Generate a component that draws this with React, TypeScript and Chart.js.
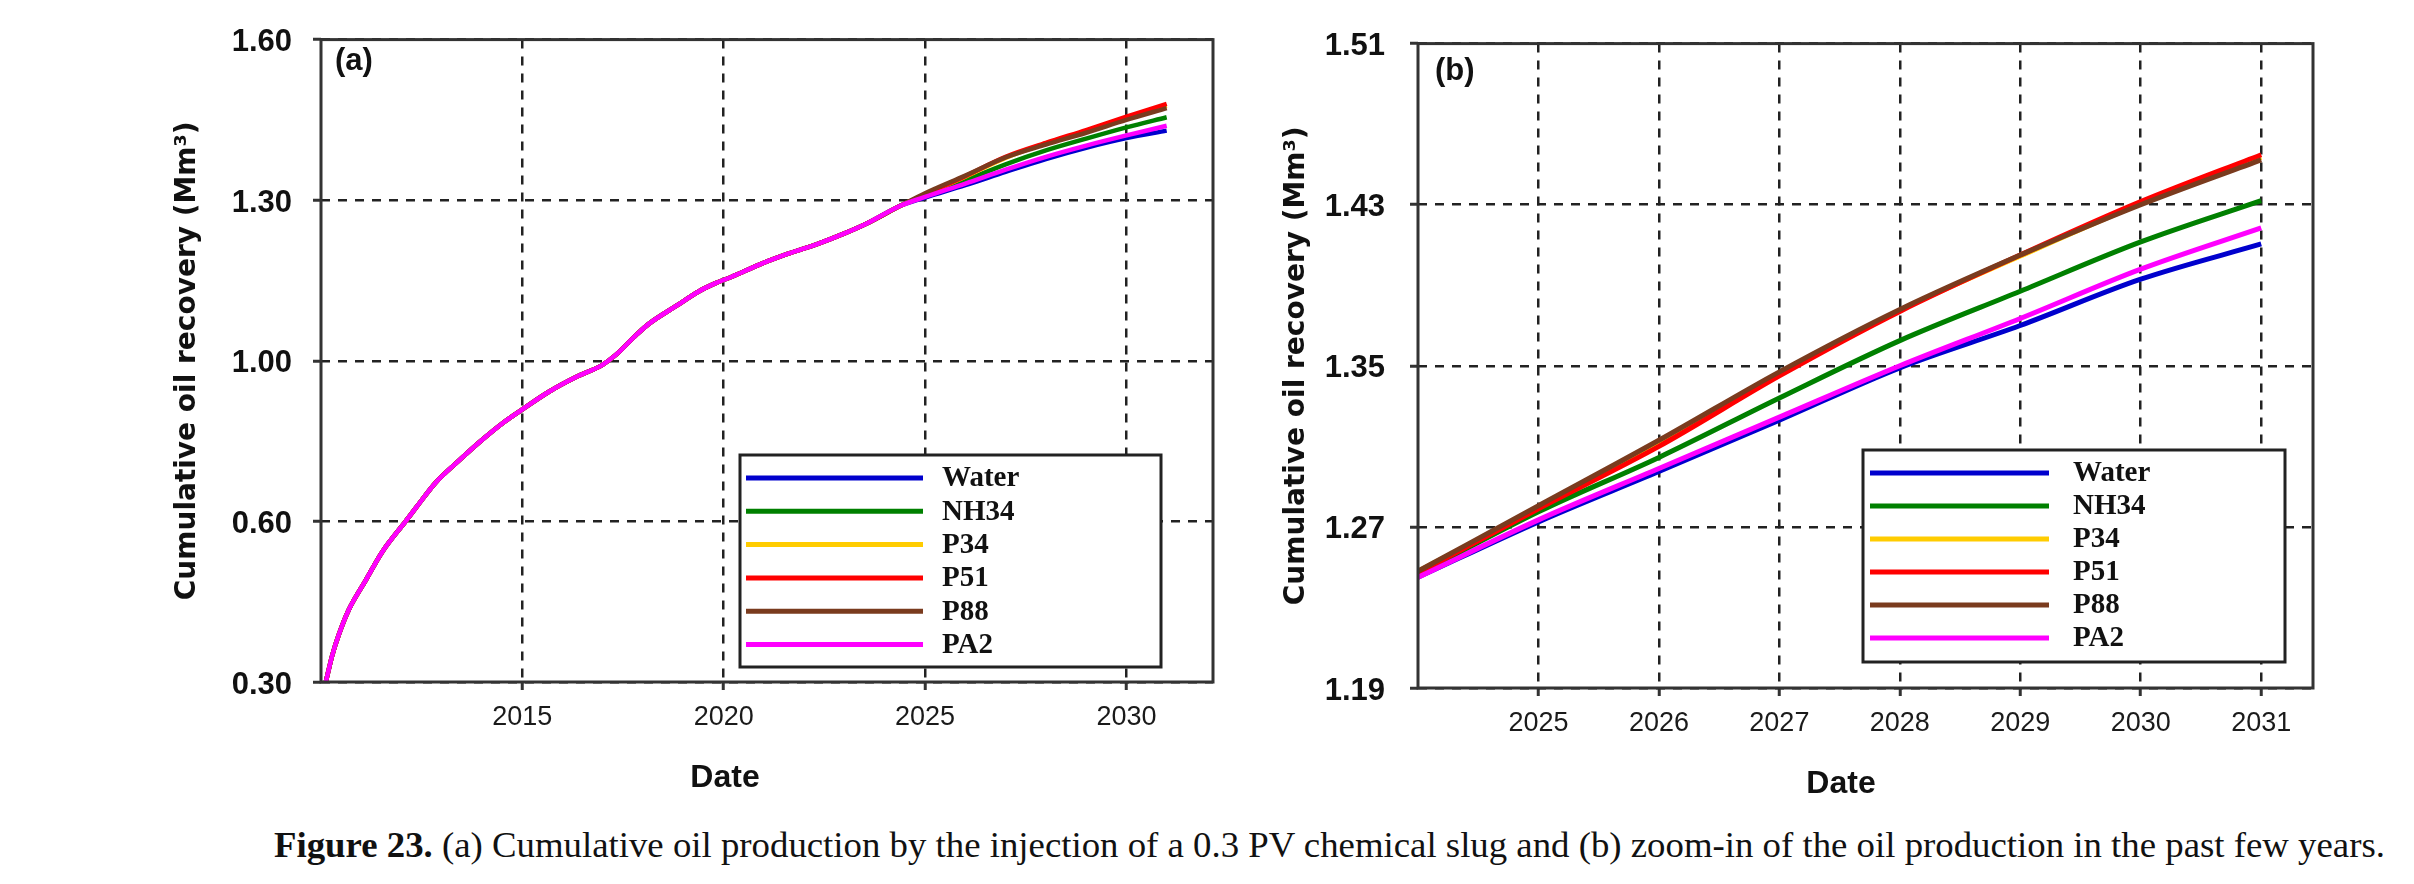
import React, { useEffect, useRef } from 'react';
import { Chart, LinearScale, registerables } from 'chart.js';

Chart.register(...registerables);

// ---------------- data ----------------
const SERIES_NAMES = ['Water', 'NH34', 'P34', 'P51', 'P88', 'PA2'];
const SERIES_COLORS = ['#0000CD', '#008000', '#FFCC00', '#FF0000', '#7A3B1E', '#FF00FF'];

// Panel (a): full history (all cases overlap) + diverging forecast
const Y_TICKS_A = [0.3, 0.6, 1.0, 1.3, 1.6];
const X_TICKS_A = [2015, 2020, 2025, 2030];
const HISTORY_YEARS = [2010.12, 2010.28, 2010.45, 2010.69, 2011.11, 2011.52, 2012.1, 2012.35, 2012.85, 2013.43, 2014.01, 2014.5, 2015.0, 2015.66, 2016.32, 2016.99, 2017.32, 2017.81, 2018.14, 2018.81, 2019.39, 2019.8, 2020.2, 2020.93, 2021.6, 2022.32, 2023.0, 2023.54, 2024.4];
const HISTORY_VALUES = [0.3, 0.35, 0.39, 0.435, 0.49, 0.543, 0.6, 0.633, 0.697, 0.752, 0.804, 0.844, 0.879, 0.923, 0.959, 0.99, 1.011, 1.047, 1.069, 1.102, 1.13, 1.145, 1.157, 1.181, 1.2, 1.218, 1.238, 1.256, 1.29];
const TAIL_YEARS_A = [2025, 2026, 2027, 2028, 2029, 2030, 2031];
const WATER_A = [1.305, 1.328, 1.353, 1.377, 1.398, 1.416, 1.43];
const NH34_A = [1.308, 1.337, 1.367, 1.393, 1.415, 1.436, 1.455];
const P34_A = [1.311, 1.344, 1.379, 1.406, 1.429, 1.452, 1.476];
const P51_A = [1.311, 1.345, 1.381, 1.407, 1.431, 1.456, 1.48];
const P88_A = [1.313, 1.346, 1.38, 1.404, 1.426, 1.45, 1.472];
const PA2_A = [1.306, 1.331, 1.357, 1.381, 1.402, 1.421, 1.439];

// Panel (b): zoom on the forecast period
const Y_TICKS_B = [1.19, 1.27, 1.35, 1.43, 1.51];
const X_TICKS_B = [2025, 2026, 2027, 2028, 2029, 2030, 2031];
const YEARS_B = [2024.0, 2025, 2026, 2027, 2028, 2029, 2030, 2031];
const WATER_B = [1.245, 1.2725, 1.2975, 1.323, 1.349, 1.37, 1.393, 1.4105];
const NH34_B = [1.2465, 1.2775, 1.3045, 1.334, 1.3625, 1.387, 1.4115, 1.432];
const P34_B = [1.248, 1.2795, 1.3115, 1.3455, 1.3775, 1.4045, 1.4305, 1.4535];
const P51_B = [1.247, 1.279, 1.31, 1.345, 1.377, 1.405, 1.4315, 1.4548];
const P88_B = [1.248, 1.2805, 1.313, 1.347, 1.378, 1.405, 1.43, 1.4523];
const PA2_B = [1.245, 1.2735, 1.299, 1.3245, 1.35, 1.3735, 1.398, 1.4185];

const TAILS_A = [WATER_A, NH34_A, P34_A, P51_A, P88_A, PA2_A];
const SERIES_B = [WATER_B, NH34_B, P34_B, P51_B, P88_B, PA2_B];

// ---------------- piecewise (evenly spaced labelled stops) y scale ----------------
class PiecewiseScale extends LinearScale {
  static id = 'piecewise';
  static defaults = LinearScale.defaults;
  getPixelForValue(value: number) {
    const s = Y_TICKS_A;
    const n = s.length - 1;
    let i = 0;
    while (i < n - 1 && value > s[i + 1]) i++;
    const frac = (i + (value - s[i]) / (s[i + 1] - s[i])) / n;
    return this.getPixelForDecimal(frac);
  }
  getValueForPixel(pixel: number) {
    const s = Y_TICKS_A;
    const n = s.length - 1;
    const d = this.getDecimalForPixel(pixel) * n;
    const i = Math.min(n - 1, Math.max(0, Math.floor(d)));
    return s[i] + (d - i) * (s[i + 1] - s[i]);
  }
}
Chart.register(PiecewiseScale);

// ---------------- styling helpers ----------------
const SANS = '"Liberation Sans", Arial, sans-serif';
const SERIF = '"Liberation Serif", "Times New Roman", serif';
const WIDE = '"DejaVu Sans", Verdana, sans-serif';

const gridOpts = {
  color: '#222',
  lineWidth: 2.5,
  drawTicks: true,
  tickLength: 8,
  tickWidth: 3,
  tickColor: '#333',
};
const borderOpts = { display: false, dash: [9, 8] };

const framePlugin = {
  id: 'frame',
  afterDatasetsDraw(chart: any) {
    const { ctx, chartArea } = chart;
    const { left, top, right, bottom } = chartArea;
    ctx.save();
    ctx.strokeStyle = '#333';
    ctx.lineWidth = 3;
    ctx.strokeRect(left, top, right - left, bottom - top);
    ctx.restore();
  },
};

type Overlay = {
  panel: string; panelX: number; panelY: number;
  dateX: number; dateY: number;
  box: [number, number, number, number];
  row0: number; rowGap: number; lineX0: number; lineX1: number; textX: number;
};

function overlayPlugin(o: Overlay) {
  return {
    id: 'overlay',
    afterDraw(chart: any) {
      const { ctx } = chart;
      ctx.save();
      // panel label
      ctx.fillStyle = '#111';
      ctx.font = `bold 31px ${SANS}`;
      ctx.textAlign = 'left';
      ctx.textBaseline = 'middle';
      ctx.fillText(o.panel, o.panelX, o.panelY);
      // x title
      ctx.font = `bold 32px ${SANS}`;
      ctx.textAlign = 'center';
      ctx.fillText('Date', o.dateX, o.dateY);
      // legend box
      const [bx, by, bw, bh] = o.box;
      ctx.fillStyle = '#fff';
      ctx.fillRect(bx, by, bw, bh);
      ctx.strokeStyle = '#222';
      ctx.lineWidth = 3;
      ctx.strokeRect(bx, by, bw, bh);
      chart.data.datasets.forEach((ds: any, i: number) => {
        const y = by + o.row0 + i * o.rowGap;
        ctx.strokeStyle = ds.borderColor;
        ctx.lineWidth = 5;
        ctx.beginPath();
        ctx.moveTo(bx + o.lineX0, y);
        ctx.lineTo(bx + o.lineX1, y);
        ctx.stroke();
        ctx.fillStyle = '#111';
        ctx.font = `bold 29px ${SERIF}`;
        ctx.textAlign = 'left';
        ctx.textBaseline = 'middle';
        ctx.fillText(ds.label, bx + o.textX, y + 1);
      });
      ctx.restore();
    },
  };
}

function yTitle(padTop: number) {
  return {
    display: true,
    text: 'Cumulative oil recovery (Mm³)',
    color: '#111',
    font: { family: WIDE, size: 28, weight: 'bold' as const },
    padding: { top: padTop, bottom: 0 },
  };
}

function makeConfigA(): any {
  const datasets = SERIES_NAMES.map((name, k) => ({
    label: name,
    data: [
      ...HISTORY_YEARS.map((x, i) => ({ x, y: HISTORY_VALUES[i] })),
      ...TAIL_YEARS_A.map((x, i) => ({ x, y: TAILS_A[k][i] })),
    ],
    borderColor: SERIES_COLORS[k],
    backgroundColor: SERIES_COLORS[k],
    borderWidth: 4.5,
    pointRadius: 0,
    fill: false,
    cubicInterpolationMode: 'monotone',
    order: SERIES_NAMES.length - k,
  }));
  return {
    type: 'line',
    data: { datasets },
    options: {
      animation: false,
      responsive: false,
      events: [],
      layout: { padding: { left: 0, right: 1240 - 1213, top: 21, bottom: 0 } },
      plugins: { legend: { display: false }, tooltip: { enabled: false } },
      scales: {
        x: {
          type: 'linear',
          min: 2010,
          max: 2032.15,
          afterBuildTicks: (s: any) => { s.ticks = X_TICKS_A.map((v) => ({ value: v })); },
          afterFit: (s: any) => { s.height = 800 - 682; },
          grid: gridOpts,
          border: borderOpts,
          ticks: {
            autoSkip: false, maxRotation: 0, padding: 11, color: '#1a1a1a',
            font: { family: SANS, size: 27 },
            callback: (v: any) => String(v),
          },
        },
        y: {
          type: 'piecewise',
          min: 0.3,
          max: 1.6,
          afterBuildTicks: (s: any) => { s.ticks = Y_TICKS_A.map((v) => ({ value: v })); },
          afterFit: (s: any) => { s.width = 321; },
          grid: gridOpts,
          border: borderOpts,
          title: yTitle(171),
          ticks: {
            autoSkip: false, padding: 21, color: '#111', labelOffset: 3,
            font: { family: SANS, size: 31, weight: 'bold' },
            callback: (v: any) => Number(v).toFixed(2),
          },
        },
      },
    },
    plugins: [
      framePlugin,
      overlayPlugin({
        panel: '(a)', panelX: 335, panelY: 61, dateX: 725, dateY: 778,
        box: [740, 455, 421, 212], row0: 23, rowGap: 33.3, lineX0: 6, lineX1: 183, textX: 202,
      }),
    ],
  };
}

function makeConfigB(): any {
  const datasets = SERIES_NAMES.map((name, k) => ({
    label: name,
    data: YEARS_B.map((x, i) => ({ x, y: SERIES_B[k][i] })),
    borderColor: SERIES_COLORS[k],
    backgroundColor: SERIES_COLORS[k],
    borderWidth: 5,
    pointRadius: 0,
    fill: false,
    cubicInterpolationMode: 'monotone',
    order: SERIES_NAMES.length - k,
  }));
  return {
    type: 'line',
    data: { datasets },
    options: {
      animation: false,
      responsive: false,
      events: [],
      layout: { padding: { left: 0, right: 1174 - 1073, top: 31.7, bottom: 0 } },
      plugins: { legend: { display: false }, tooltip: { enabled: false } },
      scales: {
        x: {
          type: 'linear',
          min: 2024.0,
          max: 2031.43,
          afterBuildTicks: (s: any) => { s.ticks = X_TICKS_B.map((v) => ({ value: v })); },
          afterFit: (s: any) => { s.height = 800 - 688; },
          grid: gridOpts,
          border: borderOpts,
          ticks: {
            autoSkip: false, maxRotation: 0, padding: 11, color: '#1a1a1a',
            font: { family: SANS, size: 27 },
            callback: (v: any) => String(v),
          },
        },
        y: {
          type: 'linear',
          min: 1.19,
          max: 1.51,
          afterBuildTicks: (s: any) => { s.ticks = Y_TICKS_B.map((v) => ({ value: v })); },
          afterFit: (s: any) => { s.width = 178; },
          grid: gridOpts,
          border: borderOpts,
          title: yTitle(40),
          ticks: {
            autoSkip: false, padding: 25, color: '#111', labelOffset: 3,
            font: { family: SANS, size: 31, weight: 'bold' },
            callback: (v: any) => Number(v).toFixed(2),
          },
        },
      },
    },
    plugins: [
      framePlugin,
      overlayPlugin({
        panel: '(b)', panelX: 195, panelY: 71, dateX: 601, dateY: 784,
        box: [623, 450, 422, 212], row0: 23, rowGap: 33, lineX0: 7, lineX1: 186, textX: 210,
      }),
    ],
  };
}

export default function App() {
  const refA = useRef<HTMLCanvasElement>(null);
  const refB = useRef<HTMLCanvasElement>(null);
  useEffect(() => {
    const a = new Chart(refA.current as HTMLCanvasElement, makeConfigA());
    const b = new Chart(refB.current as HTMLCanvasElement, makeConfigB());
    return () => { a.destroy(); b.destroy(); };
  }, []);
  return (
    <div style={{ position: 'absolute', left: 0, top: 0, width: 2414, height: 884, background: '#fff', overflow: 'hidden' }}>
      <canvas ref={refA} width={1240} height={800} style={{ position: 'absolute', left: 0, top: 0, width: 1240, height: 800 }} />
      <canvas ref={refB} width={1174} height={800} style={{ position: 'absolute', left: 1240, top: 0, width: 1174, height: 800 }} />
      <div style={{ position: 'absolute', left: 274, top: 827, fontFamily: SERIF, fontSize: 36.8, lineHeight: 1, whiteSpace: 'nowrap', color: '#111' }}>
        <b>Figure 23.</b> (a) Cumulative oil production by the injection of a 0.3 PV chemical slug and (b) zoom-in of the oil production in the past few years.
      </div>
    </div>
  );
}
